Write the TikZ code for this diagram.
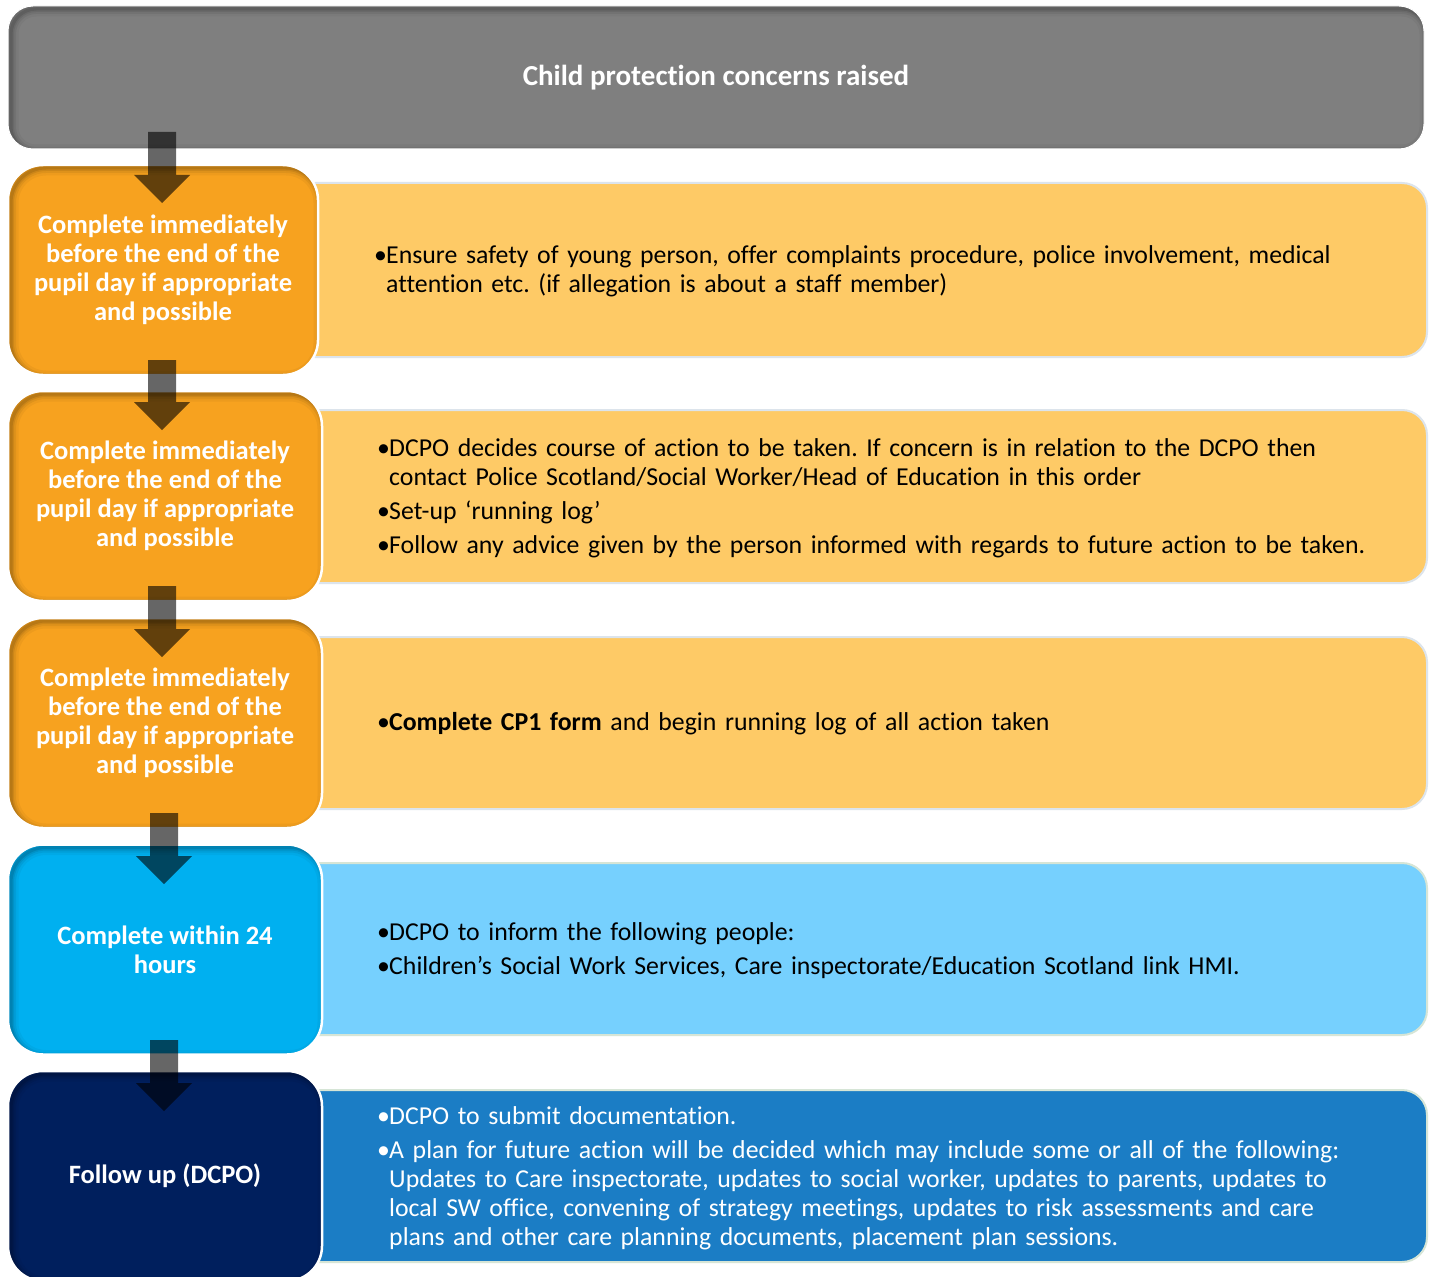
\documentclass[tikz,border=0pt]{standalone}
\usepackage{fontspec}
\setmainfont{Carlito}[Ligatures=NoCommon]
\usetikzlibrary{calc}
\definecolor{cgray}{HTML}{7F7F7F}
\definecolor{corange}{HTML}{F7A21F}
\definecolor{clorange}{HTML}{FECA66}
\definecolor{ccyan}{HTML}{00B0F0}
\definecolor{clblue}{HTML}{76D0FE}
\definecolor{cnavy}{HTML}{001F5D}
\definecolor{cblue}{HTML}{1B7DC5}
\definecolor{cbordA}{HTML}{DCE4EC}
\definecolor{cbordB}{HTML}{D6E5D6}
\newcommand{\bitem}[1]{\par\leftskip=12pt\noindent\hspace*{-12pt}\makebox[12pt][l]{•}#1}
\tikzset{
  innershadow/.style={path picture={
    \foreach \w/\o in {3/0.10,6/0.08,10/0.06,15/0.04}{
      \draw[black,opacity=\o,line width=\w pt,rounded corners=#1]
        ([shift={(3pt,-3pt)}]path picture bounding box.south west) rectangle
        ([shift={(3pt,-3pt)}]path picture bounding box.north east);}
  }},
  leftbox/.style={rectangle, rounded corners=35pt, fill=#1, draw=white, line width=2.5pt,
    minimum width=314pt, minimum height=210pt, text=white,
    font=\frenchspacing\bfseries\fontsize{26.5}{29}\selectfont, align=center, inner sep=0pt,
    innershadow=35pt},
  topbox/.style={rectangle, rounded corners=25pt, fill=cgray, draw=white, line width=1pt,
    minimum width=1416pt, minimum height=143pt, text=white,
    font=\bfseries\fontsize{29}{32}\selectfont, inner sep=0pt, innershadow=25pt},
  rightbox/.style={rectangle, rounded corners=25pt, fill=#1, line width=2pt,
    minimum width=1137pt, inner sep=0pt},
  rtext/.style={anchor=west, inner sep=0pt, text width=1040pt, align=left,
    font=\frenchspacing\fontsize{25.8}{29}\selectfont, text=#1},
  blockarrow/.style={fill=black, fill opacity=0.6,
    to path={let \p1=(\tikztostart), \p2=(\tikztotarget) in
      (\x1-14,\y1) -- (\x1+14,\y1) -- (\x1+14,\y2+28) -- (\x1+28,\y2+28) --
      (\x2,\y2) -- (\x1-28,\y2+28) -- (\x1-14,\y2+28) -- cycle}}
}
\begin{document}
\begin{tikzpicture}[x=1pt,y=-1pt]
\clip (0,0) rectangle (1431,1276);
\fill[white] (0,0) rectangle (1431,1276);
% right boxes
\node[rightbox=clorange, draw=cbordA, minimum height=174pt] (r1) at (858.5,270) {};
\node[rightbox=clorange, draw=cbordA, minimum height=173pt] (r2) at (858.5,496.5) {};
\node[rightbox=clorange, draw=cbordA, minimum height=172pt] (r3) at (858.5,723) {};
\node[rightbox=clblue, draw=cbordB, minimum height=172pt] (r4) at (858.5,949) {};
\node[rightbox=cblue, draw=cbordB, minimum height=172pt] (r5) at (858.5,1176) {};
% top box
\node[topbox] (top) at (716,77.5) {Child protection concerns raised};
% left boxes
\node[leftbox=corange, minimum width=310pt] (l1) at (163,270)
  {Complete immediately\\before the end of the\\pupil day if appropriate\\and possible};
\node[leftbox=corange] (l2) at (165,496)
  {Complete immediately\\before the end of the\\pupil day if appropriate\\and possible};
\node[leftbox=corange] (l3) at (165,723)
  {Complete immediately\\before the end of the\\pupil day if appropriate\\and possible};
\node[leftbox=ccyan] (l4) at (165,949.5) {Complete within 24\\hours};
\node[leftbox=cnavy] (l5) at (165,1176) {Follow up (DCPO)};
% right texts
\node[rtext=black] (t1) at (374,266) {\bitem{Ensure safety of young person, offer complaints procedure, police involvement, medical\break attention etc. (if allegation is about a staff member)}\par};
\node[rtext=black] (t2) at (377,490) {\setlength{\parskip}{5pt}%
  \bitem{DCPO decides course of action to be taken. If concern is in relation to the DCPO then\break contact Police Scotland/Social Worker/Head of Education in this order}
  \bitem{Set-up ‘running log’}
  \bitem{Follow any advice given by the person informed with regards to future action to be taken.}\par};
\node[rtext=black] (t3) at (377,718) {\bitem{\textbf{Complete CP1 form} and begin running log of all action taken}\par};
\node[rtext=black] (t4) at (377,943) {\setlength{\parskip}{5pt}%
  \bitem{DCPO to inform the following people:}
  \bitem{Children’s Social Work Services, Care inspectorate/Education Scotland link HMI.}\par};
\node[rtext=white] (t5) at (377,1170) {\setlength{\parskip}{5pt}%
  \bitem{DCPO to submit documentation.}
  \bitem{A plan for future action will be decided which may include some or all of the following:\break Updates to Care inspectorate, updates to social worker, updates to parents, updates to\break local SW office, convening of strategy meetings, updates to risk assessments and care\break plans and other care planning documents, placement plan sessions.}\par};
% arrows
\coordinate (a1s) at (162,132); \coordinate (a1e) at (162,203);
\coordinate (a2s) at (162,360); \coordinate (a2e) at (162,430);
\coordinate (a3s) at (162,586); \coordinate (a3e) at (162,657);
\coordinate (a4s) at (164,813); \coordinate (a4e) at (164,884);
\coordinate (a5s) at (164,1040); \coordinate (a5e) at (164,1111);
\path[blockarrow] (a1s) to (a1e);
\path[blockarrow] (a2s) to (a2e);
\path[blockarrow] (a3s) to (a3e);
\path[blockarrow] (a4s) to (a4e);
\path[blockarrow] (a5s) to (a5e);
\end{tikzpicture}
\end{document}
